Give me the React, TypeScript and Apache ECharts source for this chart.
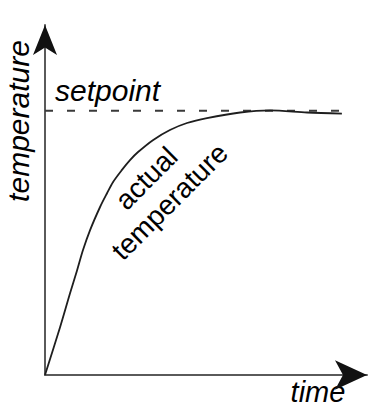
import React, { useEffect, useRef } from "react";
import * as echarts from "echarts";

// time / temperature readings of the "actual temperature" curve (arbitrary units 0..100)
const timeValues = [0, 4.7, 7.8, 9.9, 11.8, 14.0, 17.1, 19.3, 21.1, 23.9, 26.4, 28.9, 33.5, 38.8, 44.1, 50.3, 60.6, 69.9, 81.4, 92.2];
const temperatureValues = [0, 13.7, 23.4, 29.7, 35.7, 41.4, 48.0, 52.0, 55.1, 58.6, 61.4, 63.7, 67.1, 70.0, 72.0, 73.4, 75.0, 75.6, 75.0, 74.7];
const setpointValue = 75.5;
const setpointRange = [0, 92];

const axisTitles = { x: "time", y: "temperature" };
const annotationTexts = { setpoint: "setpoint", actual: "actual\ntemperature" };

export default function App() {
  const ref = useRef<HTMLDivElement>(null);
  useEffect(() => {
    if (!ref.current) return;
    document.body.style.margin = "0";
    const chart = echarts.init(ref.current, undefined, { renderer: "svg" });
    const font = "'Liberation Sans', Arial, sans-serif";
    const axisCommon = {
      type: "value" as const,
      min: 0,
      max: 100,
      axisTick: { show: false },
      axisLabel: { show: false },
      splitLine: { show: false },
    };
    const grayLine = {
      show: true,
      onZero: false,
      symbol: ["none", "none"],
      lineStyle: { color: "#5a5a5a", width: 2 },
    };
    chart.setOption({
      animation: false,
      backgroundColor: "#ffffff",
      grid: { left: 45, right: 15, top: 25, bottom: 32, containLabel: false },
      xAxis: [
        { ...axisCommon, position: "bottom", axisLine: grayLine },
        {
          ...axisCommon,
          position: "bottom",
          axisLine: {
            show: true,
            onZero: false,
            symbol: ["none", "arrow"],
            symbolSize: [22, 32],
            lineStyle: { color: "#111111", width: 0 },
          },
        },
      ],
      yAxis: [
        { ...axisCommon, position: "left", axisLine: grayLine },
        {
          ...axisCommon,
          position: "left",
          axisLine: {
            show: true,
            onZero: false,
            symbol: ["none", "arrow"],
            symbolSize: [18, 30],
            lineStyle: { color: "#111111", width: 0 },
          },
        },
      ],
      series: [
        {
          type: "line",
          data: setpointRange.map((t) => [t, setpointValue]),
          showSymbol: false,
          lineStyle: { color: "#3a3a3a", width: 2, type: [8, 14] },
          z: 2,
        },
        {
          type: "line",
          data: timeValues.map((t, i) => [t, temperatureValues[i]]),
          smooth: 0.3,
          showSymbol: false,
          lineStyle: { color: "#1e1e1e", width: 1.8 },
          z: 3,
        },
      ],
      graphic: [
        {
          type: "text",
          x: 55,
          y: 90,
          style: {
            text: annotationTexts.setpoint,
            font: `italic 30px ${font}`,
            fill: "#000",
            align: "left",
            verticalAlign: "middle",
          },
        },
        {
          type: "text",
          x: 318,
          y: 392,
          style: {
            text: axisTitles.x,
            font: `italic 29px ${font}`,
            fill: "#000",
            align: "center",
            verticalAlign: "middle",
          },
        },
        {
          type: "text",
          x: 18,
          y: 121,
          rotation: Math.PI / 2,
          style: {
            text: axisTitles.y,
            font: `italic 30px ${font}`,
            fill: "#000",
            align: "center",
            verticalAlign: "middle",
          },
        },
        {
          type: "text",
          x: 158,
          y: 190,
          rotation: Math.PI / 4,
          style: {
            text: annotationTexts.actual,
            font: `28px ${font}`,
            lineHeight: 33,
            fill: "#000",
            align: "center",
            verticalAlign: "middle",
          },
        },
      ],
    });
    return () => chart.dispose();
  }, []);
  return <div ref={ref} style={{ width: 382, height: 407 }} />;
}
